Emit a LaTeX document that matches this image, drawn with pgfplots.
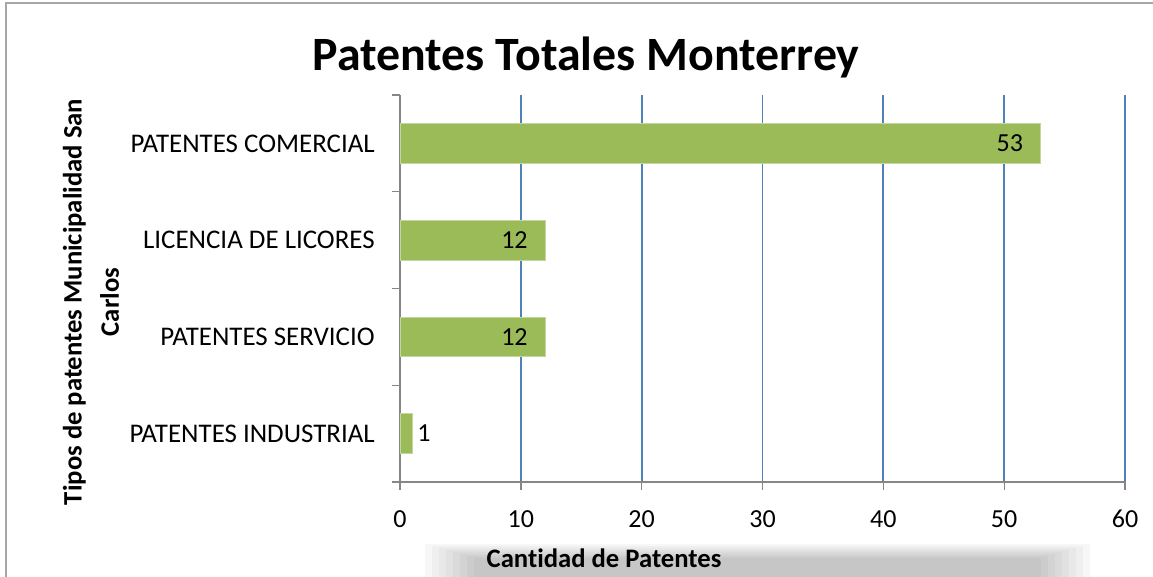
\documentclass[border=0pt]{standalone}
\usepackage{pgfplots}
\pgfplotsset{compat=1.18}
\usepackage{fontspec}
\setmainfont{Carlito}[Ligatures=NoCommon]
\definecolor{bargreen}{HTML}{9BBB59}
\definecolor{gridblue}{HTML}{4F81BD}
\definecolor{axgrey}{HTML}{868686}
\begin{document}
\begin{tikzpicture}[x=0.75pt,y=0.75pt]
\path[use as bounding box] (0,0) rectangle (1153,577);
% frame
\draw[gray!70, line width=1.5pt] (6,-5) -- (6,573.5) -- (1160,573.5);
% shadow behind x label
\foreach \i in {0,...,7}{
  \fill[black, opacity=0.03] (425+\i*7, -5) rectangle (1090-\i*7, 33-\i*2);
}
% title
\node[font=\fontsize{35.9}{42}\selectfont\bfseries] at (586,520) {Patentes Totales Monterrey};
% y label
\node[rotate=90, align=center, font=\fontsize{20}{28}\selectfont\bfseries] at (91,275) {Tipos de patentes Municipalidad San\\Carlos};
% x label
\node[font=\fontsize{20}{24}\selectfont\bfseries] at (604,19) {Cantidad de Patentes};
\begin{axis}[
  at={(300pt,71.25pt)}, anchor=south west,
  scale only axis, width=543.75pt, height=290.25pt,
  xmin=0, xmax=60, ymin=-0.5, ymax=3.5,
  axis x line*=bottom, axis y line*=left,
  axis line style={axgrey, line width=1pt, -},
  xtick={0,10,...,60},
  xmajorgrids, grid style={gridblue, line width=1.3pt},
  tick align=outside, major tick length=6pt,
  tick style={axgrey, line width=1pt},
  ytick={-0.5,0.5,1.5,2.5,3.5},
  yticklabels={},
  extra y ticks={0,1,2,3},
  extra y tick labels={PATENTES INDUSTRIAL, PATENTES SERVICIO, LICENCIA DE LICORES, PATENTES COMERCIAL},
  extra y tick style={major tick length=0pt, yticklabel style={inner sep=0pt, xshift=-18.75pt, font=\fontsize{20.2}{24}\selectfont}},
  /pgf/number format/assume math mode=true,
  every tick label/.append style={font=\fontsize{19.5}{22}\selectfont, text=black},
  xticklabel style={inner sep=0pt, yshift=-15pt},
]
\addplot[xbar, bar width=0.41, fill=bargreen, draw=bargreen!60!white, line width=0.5pt,
  nodes near coords,
  every node near coord/.append style={anchor=east, inner sep=0pt, xshift=-12.75pt, font=\fontsize{19.5}{22}\selectfont, text=black}]
  coordinates {(53,3) (12,2) (12,1)};
\addplot[xbar, bar width=0.41, fill=bargreen, draw=bargreen!60!white, line width=0.5pt,
  nodes near coords,
  every node near coord/.append style={anchor=west, inner sep=0pt, xshift=3.75pt, font=\fontsize{19.5}{22}\selectfont, text=black}]
  coordinates {(1,0)};
\end{axis}
\end{tikzpicture}
\end{document}
